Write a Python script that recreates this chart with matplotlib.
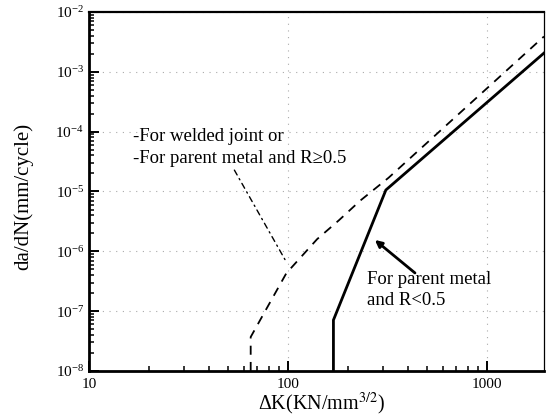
import matplotlib
matplotlib.use('Agg')
import matplotlib.pyplot as plt
from matplotlib.ticker import LogLocator, LogFormatterSciNotation, NullFormatter

plt.rcParams['font.family'] = ['Liberation Serif', 'DejaVu Serif']
plt.rcParams['mathtext.fontset'] = 'stix'

# welded joint / parent metal R >= 0.5 (dashed curve)
weld_dk = [64.9, 64.9, 98, 140, 180, 230, 320, 1930]
weld_rate = [1e-8, 3.7e-8, 4.3e-7, 1.6e-6, 3.3e-6, 7e-6, 1.7e-5, 3.9e-3]

# parent metal R < 0.5 (solid curve)
parent_dk = [169, 169, 310, 1930]
parent_rate = [1e-8, 7.1e-8, 1.06e-5, 2.06e-3]

fig = plt.figure(figsize=(5.46, 4.2), dpi=100)
ax = fig.add_axes([0.163, 0.1167, 0.8333, 0.8547])

ax.plot(weld_dk, weld_rate, color='black', lw=1.3, ls=(0, (5, 4)))
ax.plot(parent_dk, parent_rate, color='black', lw=2.0, solid_joinstyle='miter')

ax.set_xscale('log')
ax.set_yscale('log')
ax.set_xlim(10, 1930)
ax.set_ylim(1e-8, 1e-2)

ax.xaxis.set_major_locator(LogLocator(base=10))
ax.xaxis.set_minor_locator(LogLocator(base=10, subs=range(2, 10)))
ax.xaxis.set_minor_formatter(NullFormatter())
ax.xaxis.set_major_formatter(plt.FuncFormatter(lambda v, p: '%d' % v))
ax.yaxis.set_major_locator(LogLocator(base=10, numticks=10))
ax.yaxis.set_minor_locator(LogLocator(base=10, subs=range(2, 10), numticks=10))
ax.yaxis.set_minor_formatter(NullFormatter())
ax.yaxis.set_major_formatter(LogFormatterSciNotation())

ax.tick_params(which='both', direction='in', colors='black', labelsize=11)
ax.tick_params(which='major', length=7, width=1.4)
ax.tick_params(which='minor', length=3.5, width=1.1)
ax.tick_params(axis='x', pad=5)

for side in ['left', 'bottom']:
    ax.spines[side].set_linewidth(2.0)
ax.spines['top'].set_linewidth(1.6)
ax.spines['right'].set_linewidth(0.9)

ax.grid(True, which='major', color='#aaaaaa', ls=(0, (1, 5)), lw=0.8)

ax.set_xlabel('ΔK(KN/mm$^{3/2}$)', fontsize=14.5)
ax.set_ylabel('da/dN(mm/cycle)', fontsize=15)
ax.xaxis.label.set_va('center')
ax.xaxis.set_label_coords(0.512, -0.093)
ax.yaxis.label.set_va('center')
ax.yaxis.set_label_coords(-0.145, 0.487)

ax.text(0.097, 0.652, '-For welded joint or', transform=ax.transAxes,
        fontsize=13.5, va='center', ha='left')
ax.text(0.097, 0.593, '-For parent metal and R\u22650.5', transform=ax.transAxes,
        fontsize=13.5, va='center', ha='left')
ax.annotate('', xy=(100, 5.9e-7), xytext=(52.9, 2.5e-5),
            arrowprops=dict(arrowstyle='-', color='black', lw=1.0,
                            ls=(0, (4, 3, 1, 3))))

ax.text(0.611, 0.225, 'For parent metal\nand R<0.5', transform=ax.transAxes,
        fontsize=13.5, va='center', ha='left', linespacing=1.3)
ax.annotate('', xy=(273, 1.55e-6), xytext=(434, 4.35e-7),
            arrowprops=dict(arrowstyle='-|>', color='black', lw=2.0,
                            mutation_scale=10, shrinkA=0, shrinkB=0))

fig.savefig('out.png', dpi=100)
